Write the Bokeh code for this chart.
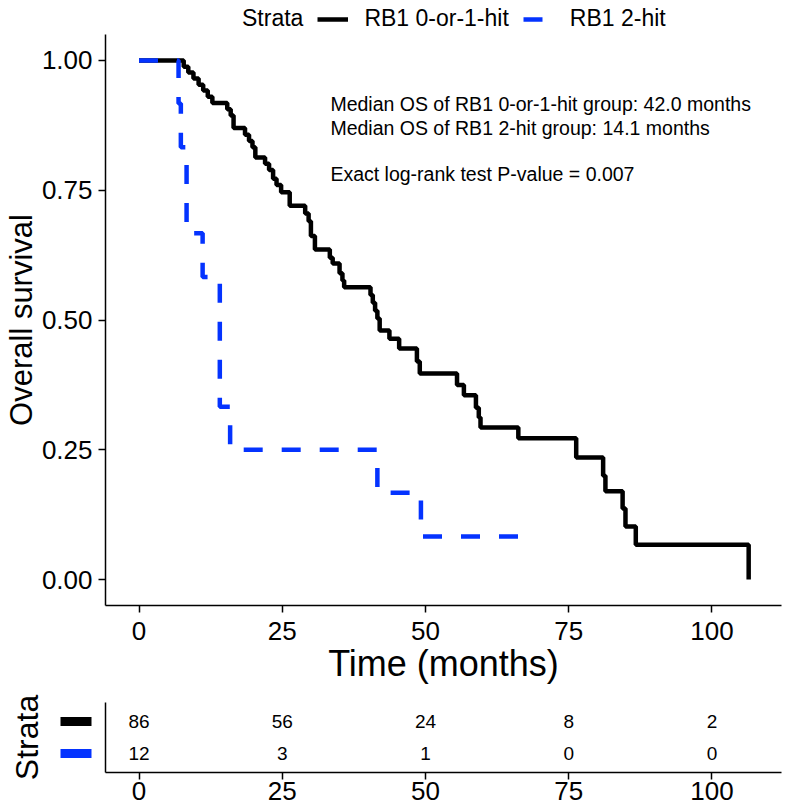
from bokeh.plotting import figure
from bokeh.models import Range1d, Legend, LegendItem, Label, FixedTicker
from bokeh.layouts import column
from bokeh.embed import file_html
from bokeh.resources import INLINE
from bokeh.core.properties import value

# ---------------- data ----------------
strata_title = "Strata"
strata = ["RB1 0-or-1-hit", "RB1 2-hit"]
colors = ["#000000", "#0433FF"]

black_time = [0, 7.8, 8.6, 9.5, 10.4, 11.2, 12.0, 12.8, 15.4, 16.0, 16.5, 18.5,
              19.2, 19.8, 20.3, 22.0, 22.7, 23.4, 24.0, 24.8, 26.3, 29.0, 29.6,
              30.0, 30.7, 33.3, 33.8, 35.0, 35.5, 35.8, 40.4, 40.8, 41.2, 41.6,
              42.0, 43.7, 45.4, 48.5, 49.0, 55.5, 56.7, 58.8, 59.3, 59.6, 66.2,
              76.3, 81.0, 81.4, 84.4, 84.9, 86.7, 106.4]
black_surv = [1.000, 0.988, 0.977, 0.965, 0.953, 0.942, 0.930, 0.918, 0.906,
              0.894, 0.870, 0.857, 0.845, 0.833, 0.813, 0.801, 0.789, 0.772,
              0.760, 0.746, 0.720, 0.705, 0.690, 0.662, 0.636, 0.620, 0.609,
              0.590, 0.576, 0.563, 0.548, 0.533, 0.518, 0.503, 0.480, 0.464,
              0.445, 0.420, 0.397, 0.375, 0.355, 0.331, 0.312, 0.293, 0.272,
              0.235, 0.200, 0.170, 0.137, 0.102, 0.067, 0.000]

blue_time = [0, 6.9, 7.3, 8.3, 11.1, 14.1, 15.9, 41.6, 49.2, 69.2]
blue_surv = [1.000, 0.917, 0.833, 0.667, 0.583, 0.333, 0.250, 0.167, 0.083, 0.083]

x_ticks = [0, 25, 50, 75, 100]
y_ticks = [0, 0.25, 0.5, 0.75, 1.0]
y_tick_labels = ["0.00", "0.25", "0.50", "0.75", "1.00"]

risk_times = [0, 25, 50, 75, 100]
risk_black = [86, 56, 24, 8, 2]
risk_blue = [12, 3, 1, 0, 0]
risk_rows = [2, 1]

annotations = ["Median OS of RB1 0-or-1-hit group: 42.0 months",
               "Median OS of RB1 2-hit group: 14.1 months",
               "Exact log-rank test P-value = 0.007"]
annot_x = 33.4
annot_y = [0.917, 0.869, 0.782]

FONT = "Liberation Sans"
X0, X1 = -5.85, 112.13
FW = 676
COMMON = dict(min_border_left=105, min_border_right=19,
              output_backend="svg", toolbar_location=None)

# ---------------- legend strip on top ----------------
p0 = figure(frame_width=FW, frame_height=34, x_range=Range1d(0, 1),
            y_range=Range1d(0, 1), min_border_top=0, min_border_bottom=0,
            x_axis_location=None, y_axis_location=None, **COMMON)
p0.outline_line_color = None
p0.grid.visible = False
# key renderers sit outside the visible range: only their legend keys show
off_x, off_y = [5, 6], [5, 5]
g_title = p0.line(x=off_x, y=off_y, line_alpha=0)
g_black = p0.line(x=off_x, y=off_y, line_color=colors[0], line_width=4.5)
g_blue = p0.line(x=off_x, y=off_y, line_color=colors[1], line_width=4.5,
                 line_dash="19 19")
legend = Legend(items=[LegendItem(label=strata_title, renderers=[g_title]),
                       LegendItem(label=strata[0], renderers=[g_black]),
                       LegendItem(label=strata[1], renderers=[g_blue])],
                orientation="horizontal", location=(90, 2),
                glyph_width=31, glyph_height=20, label_standoff=16, spacing=14,
                padding=0, margin=0, border_line_color=None,
                background_fill_alpha=0, label_text_font=FONT,
                label_text_font_size="23px", label_text_color="black")
p0.add_layout(legend)

# ---------------- main KM plot ----------------
p1 = figure(frame_width=FW, frame_height=571,
            x_range=Range1d(X0, X1), y_range=Range1d(-0.05, 1.05),
            min_border_top=0, min_border_bottom=87, **COMMON)
p1.outline_line_color = None
p1.grid.visible = False

p1.step(black_time, black_surv, mode="after", line_color=colors[0],
        line_width=4.5)
p1.step(blue_time, blue_surv, mode="after", line_color=colors[1],
        line_width=4.5, line_dash="19 19")

for ax in (p1.xaxis[0], p1.yaxis[0]):
    ax.axis_line_width = 1.5
    ax.major_tick_line_width = 1.5
    ax.major_tick_out = 7
    ax.major_tick_in = 0
    ax.minor_tick_out = 0
    ax.minor_tick_in = 0
    ax.major_label_text_font = FONT
    ax.major_label_text_font_size = "26px"
    ax.major_label_text_color = "black"
    ax.axis_label_text_font = FONT
    ax.axis_label_text_font_style = "normal"
    ax.axis_label_text_color = "black"

p1.xaxis.ticker = x_ticks
p1.xaxis.major_label_standoff = 9
p1.xaxis.axis_label = "Time (months)"
p1.xaxis.axis_label_text_font_size = "36px"
p1.xaxis.axis_label_standoff = 0

p1.yaxis.ticker = y_ticks
p1.yaxis.major_label_overrides = dict(zip(y_ticks, y_tick_labels))
p1.yaxis.major_label_standoff = 6
p1.yaxis.axis_label = "Overall survival"
p1.yaxis.axis_label_text_font_size = "31px"
p1.yaxis.axis_label_standoff = 0

for t, yy in zip(annotations, annot_y):
    p1.add_layout(Label(x=annot_x, y=yy, text=t, text_align="left",
                        text_baseline="middle", text_font=FONT,
                        text_font_size="19.5px", text_color="black"))

# ---------------- risk table ----------------
p2 = figure(frame_width=FW, frame_height=70,
            x_range=Range1d(X0, X1), y_range=Range1d(0.4, 2.6),
            min_border_top=10, min_border_bottom=0, **COMMON)
p2.outline_line_color = None
p2.grid.visible = False

xa = p2.xaxis[0]
xa.ticker = x_ticks
xa.axis_line_width = 1.5
xa.major_tick_line_width = 1.5
xa.major_tick_out = 7
xa.major_tick_in = 0
xa.minor_tick_out = 0
xa.minor_tick_in = 0
xa.major_label_standoff = 2
xa.major_label_text_font = FONT
xa.major_label_text_font_size = "26px"
xa.major_label_text_color = "black"

# y axis of the table: colour keys drawn as its (major/minor) ticks
ya = p2.yaxis[0]
ya.ticker = FixedTicker(ticks=[risk_rows[0]], minor_ticks=[risk_rows[1]])
ya.axis_line_width = 1.5
ya.axis_line_color = "black"
ya.major_tick_out = 45
ya.major_tick_in = -14
ya.major_tick_line_width = 9
ya.major_tick_line_color = colors[0]
ya.minor_tick_out = 45
ya.minor_tick_in = -14
ya.minor_tick_line_width = 9
ya.minor_tick_line_color = colors[1]
ya.major_label_standoff = 0
ya.major_label_overrides = {risk_rows[0]: ""}
ya.axis_label = strata_title
ya.axis_label_standoff = 16
ya.axis_label_text_font = FONT
ya.axis_label_text_font_size = "32px"
ya.axis_label_text_font_style = "normal"
ya.axis_label_text_color = "black"

for row, vals in zip(risk_rows, [risk_black, risk_blue]):
    p2.text(x=risk_times, y=[row] * len(risk_times), text=[str(v) for v in vals],
            text_align="center", text_baseline="middle",
            text_font=value(FONT), text_font_size="19px", text_color="black")

layout = column(p0, p1, p2, spacing=0)
open("out.html", "w").write(file_html(layout, INLINE))
